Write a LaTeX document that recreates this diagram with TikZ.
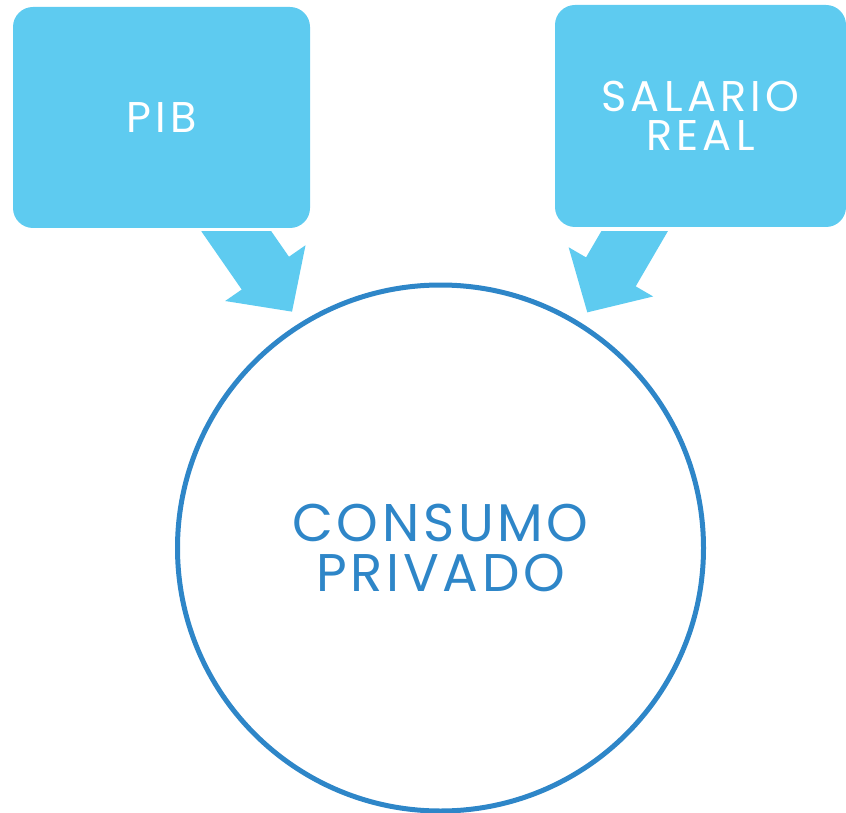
\documentclass[tikz,border=0pt]{standalone}
\usepackage{fontspec}
\setmainfont{Poppins}
\newfontfamily\cajafont{Poppins}[LetterSpace=10]
\newfontfamily\circulofont{Poppins}[LetterSpace=7]
\usepackage{tikz}
\usetikzlibrary{arrows.meta}
\definecolor{celeste}{RGB}{94,203,240}
\definecolor{azul}{RGB}{46,134,200}
\tikzset{
	caja/.style={fill=celeste, rounded corners=20pt, inner sep=0pt, text=white, align=center, font=\cajafont\fontsize{43}{39}\selectfont},
	flecha/.style={draw=celeste, line width=57.5pt, -{Triangle[width=95pt, length=47pt]}},
}

\begin{document}
\begin{tikzpicture}[x=1pt, y=-1pt]
		%%%%% START %%%%%
		\useasboundingbox (0, 0) rectangle (846, 813);
		
		\node[caja, minimum width=297pt, minimum height=221pt] (pib) at (161.5, 117.5) {PIB};
		\node[caja, minimum width=291pt, minimum height=222pt] (salario) at (700.5, 116) {SALARIO\\REAL};
		
		\node[circle, draw=azul, line width=5pt, minimum size=526pt, inner sep=0pt, text=azul, align=center, font=\circulofont\fontsize{53}{50}\selectfont] (consumo) at (440.5, 548) {CONSUMO\\PRIVADO};
		
		\coordinate (pibcola) at (225, 215);
		\coordinate (salariocola) at (644, 215);
		
		\begin{scope}
			\clip (0, 232) rectangle (846, 813);
			\draw[flecha, shorten >=13.5pt] (pibcola) -- (consumo.122.9);
			\draw[flecha, shorten >=12pt] (salariocola) -- (consumo.58.8);
		\end{scope}
		%%%%% END %%%%%
	\end{tikzpicture}
\end{document}
